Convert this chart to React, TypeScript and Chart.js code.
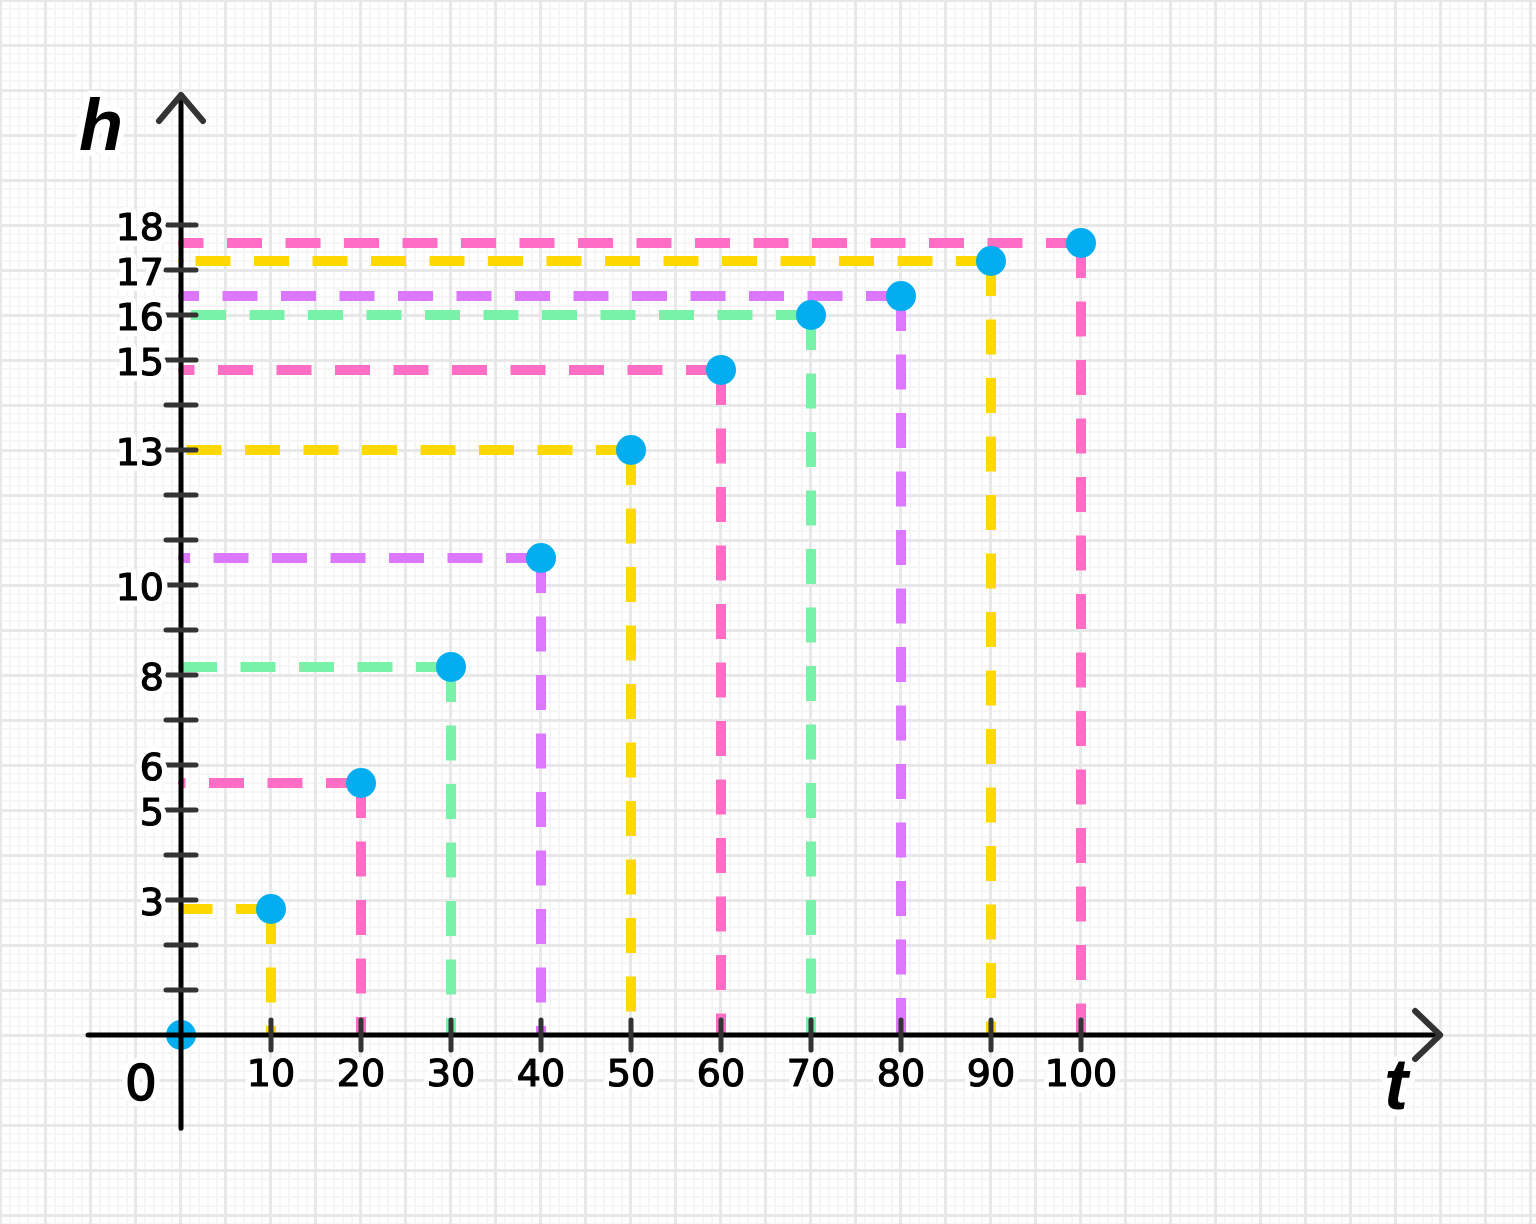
import React, { useEffect, useRef } from "react";
import { Chart, registerables } from "chart.js";

Chart.register(...registerables);

// ---- data ----
const times = [0, 10, 20, 30, 40, 50, 60, 70, 80, 90, 100];
const heights = [0, 2.8, 5.6, 8.18, 10.6, 13, 14.78, 16, 16.42, 17.2, 17.6];
const guideColors = [
  "",
  "#FFD800",
  "#FF6EC4",
  "#78F2A8",
  "#DC78FF",
  "#FFD800",
  "#FF6EC4",
  "#78F2A8",
  "#DC78FF",
  "#FFD800",
  "#FF6EC4",
];
const xTickValues = [10, 20, 30, 40, 50, 60, 70, 80, 90, 100];
const xTickLabels = ["10", "20", "30", "40", "50", "60", "70", "80", "90", "100"];
const yTickValues = [1, 2, 3, 4, 5, 6, 7, 8, 9, 10, 11, 12, 13, 14, 15, 16, 17, 18];
const yLabelValues = [3, 5, 6, 8, 10, 13, 15, 16, 17, 18];
const yLabelTexts = ["3", "5", "6", "8", "10", "13", "15", "16", "17", "18"];
const xAxisName = "t";
const yAxisName = "h";
const originLabel = "0";

// ---- layout constants (data units) ----
const X_MIN = -181 / 9;
const X_MAX = (1536 - 181) / 9;
const Y_MIN = -189 / 45;
const Y_MAX = 1035 / 45;
const X_AXIS_FROM = -10.33;
const X_AXIS_TO = 139.9;
const Y_AXIS_FROM = -2.07;
const Y_AXIS_TO = 20.89;

const POINT_COLOR = "#02AEF0";
const DIGIT_FONT = "38px 'DejaVu Sans', sans-serif";

function haloText(ctx: CanvasRenderingContext2D, text: string, x: number, y: number, embolden = 1.2) {
  ctx.save();
  ctx.lineJoin = "round";
  ctx.strokeStyle = "#ffffff";
  ctx.lineWidth = 12;
  ctx.strokeText(text, x, y);
  ctx.fillStyle = "#000000";
  ctx.fillText(text, x, y);
  if (embolden > 0) {
    ctx.strokeStyle = "#000000";
    ctx.lineWidth = embolden;
    ctx.strokeText(text, x, y);
  }
  ctx.restore();
}

const graphPaper = {
  id: "graphPaper",
  beforeDraw(chart: any) {
    const ctx = chart.ctx as CanvasRenderingContext2D;
    ctx.save();
    ctx.fillStyle = "#ffffff";
    ctx.fillRect(0, 0, chart.width, chart.height);
    ctx.restore();
  },
  beforeDatasetsDraw(chart: any) {
    const ctx = chart.ctx as CanvasRenderingContext2D;
    const xs = chart.scales.x;
    const ys = chart.scales.y;
    const W = chart.width;
    const H = chart.height;
    ctx.save();
    // minor lines
    ctx.strokeStyle = "#f6f6f6";
    ctx.lineWidth = 2;
    ctx.beginPath();
    for (let v = Math.ceil(xs.min); v <= xs.max; v += 1) {
      if (v % 5 === 0) continue;
      const p = Math.round(xs.getPixelForValue(v));
      ctx.moveTo(p, 0);
      ctx.lineTo(p, H);
    }
    for (let k = Math.ceil(ys.min * 5); k <= ys.max * 5; k += 1) {
      if (k % 5 === 0) continue;
      const p = Math.round(ys.getPixelForValue(k / 5));
      ctx.moveTo(0, p);
      ctx.lineTo(W, p);
    }
    ctx.stroke();
    // major lines
    ctx.strokeStyle = "#e8e8e8";
    ctx.lineWidth = 3;
    ctx.beginPath();
    for (let v = Math.ceil(xs.min / 5) * 5; v <= xs.max; v += 5) {
      const p = Math.round(xs.getPixelForValue(v)) - 0.5;
      ctx.moveTo(p, 0);
      ctx.lineTo(p, H);
    }
    for (let v = Math.ceil(ys.min); v <= ys.max; v += 1) {
      const p = Math.round(ys.getPixelForValue(v)) + 0.5;
      ctx.moveTo(0, p);
      ctx.lineTo(W, p);
    }
    ctx.stroke();
    ctx.restore();
  },
  afterDatasetsDraw(chart: any) {
    const ctx = chart.ctx as CanvasRenderingContext2D;
    const xs = chart.scales.x;
    const ys = chart.scales.y;
    const ox = xs.getPixelForValue(0);
    const oy = ys.getPixelForValue(0);
    ctx.save();
    // axis lines
    ctx.strokeStyle = "#000000";
    ctx.lineWidth = 5;
    ctx.lineCap = "round";
    ctx.beginPath();
    ctx.moveTo(xs.getPixelForValue(X_AXIS_FROM), oy);
    ctx.lineTo(xs.getPixelForValue(X_AXIS_TO), oy);
    ctx.moveTo(ox, ys.getPixelForValue(Y_AXIS_FROM));
    ctx.lineTo(ox, ys.getPixelForValue(Y_AXIS_TO));
    ctx.stroke();

    // tick marks
    ctx.strokeStyle = "#333333";
    ctx.lineWidth = 5;
    ctx.beginPath();
    for (const v of xTickValues) {
      const p = xs.getPixelForValue(v);
      ctx.moveTo(p, oy - 15);
      ctx.lineTo(p, oy + 15);
    }
    for (const v of yTickValues) {
      const p = ys.getPixelForValue(v);
      ctx.moveTo(ox - 15, p);
      ctx.lineTo(ox + 15, p);
    }
    ctx.stroke();

    // arrows
    const tx = xs.getPixelForValue(X_AXIS_TO);
    const ty = ys.getPixelForValue(Y_AXIS_TO);
    ctx.strokeStyle = "#333333";
    ctx.lineWidth = 6;
    ctx.lineJoin = "round";
    ctx.beginPath();
    ctx.moveTo(ox - 22, ty + 26);
    ctx.lineTo(ox, ty);
    ctx.lineTo(ox + 22, ty + 26);
    ctx.moveTo(tx - 25, oy - 24);
    ctx.lineTo(tx, oy);
    ctx.lineTo(tx - 25, oy + 24);
    ctx.stroke();

    // tick labels
    ctx.font = DIGIT_FONT;
    ctx.textAlign = "right";
    ctx.textBaseline = "alphabetic";
    yLabelValues.forEach((v, i) => {
      haloText(ctx, yLabelTexts[i], ox - 17, ys.getPixelForValue(v) + 15);
    });
    ctx.textAlign = "center";
    xTickValues.forEach((v, i) => {
      haloText(ctx, xTickLabels[i], xs.getPixelForValue(v), oy + 51);
    });
    ctx.font = "50px 'DejaVu Sans', sans-serif";
    haloText(ctx, originLabel, ox - 40, oy + 65, 1.6);

    // axis names
    ctx.font = "italic bold 72px 'Liberation Sans', sans-serif";
    haloText(ctx, yAxisName, ox - 80, ty + 55, 0);
    haloText(ctx, xAxisName, tx - 44, oy + 74, 0);
    ctx.restore();
  },
};

export default function App() {
  const ref = useRef<HTMLCanvasElement | null>(null);

  useEffect(() => {
    if (!ref.current) return;
    const datasets: any[] = [
      {
        label: "h(t)",
        data: times.map((t, i) => ({ x: t, y: heights[i] })),
        pointRadius: 15,
        pointBackgroundColor: POINT_COLOR,
        pointBorderWidth: 0,
        showLine: false,
        order: 0,
      },
    ];
    times.forEach((t, i) => {
      const h = heights[i];
      if (h === 0) return;
      const c = guideColors[i];
      const common = {
        showLine: true,
        borderColor: c,
        borderWidth: 10,
        borderDash: [35, 23.5],
        borderCapStyle: "butt",
        pointRadius: [0, 3],
        pointBackgroundColor: c,
        pointBorderWidth: 0,
        order: 1,
      };
      datasets.push({ ...common, label: "h" + t, data: [{ x: t, y: h }, { x: 0, y: h }] });
      datasets.push({ ...common, label: "t" + t, data: [{ x: t, y: h }, { x: t, y: 0 }] });
    });

    const chart = new Chart(ref.current, {
      type: "scatter",
      data: { datasets },
      options: {
        animation: false,
        responsive: false,
        devicePixelRatio: 1,
        events: [],
        layout: { padding: 0, autoPadding: false },
        plugins: { legend: { display: false }, tooltip: { enabled: false } },
        scales: {
          x: { type: "linear", display: false, min: X_MIN, max: X_MAX },
          y: { type: "linear", display: false, min: Y_MIN, max: Y_MAX },
        },
      } as any,
      plugins: [graphPaper as any],
    });
    return () => chart.destroy();
  }, []);

  return (
    <div style={{ position: "absolute", left: 0, top: 0, width: 1536, height: 1224, background: "#fff" }}>
      <canvas ref={ref} width={1536} height={1224} style={{ display: "block" }} />
    </div>
  );
}
